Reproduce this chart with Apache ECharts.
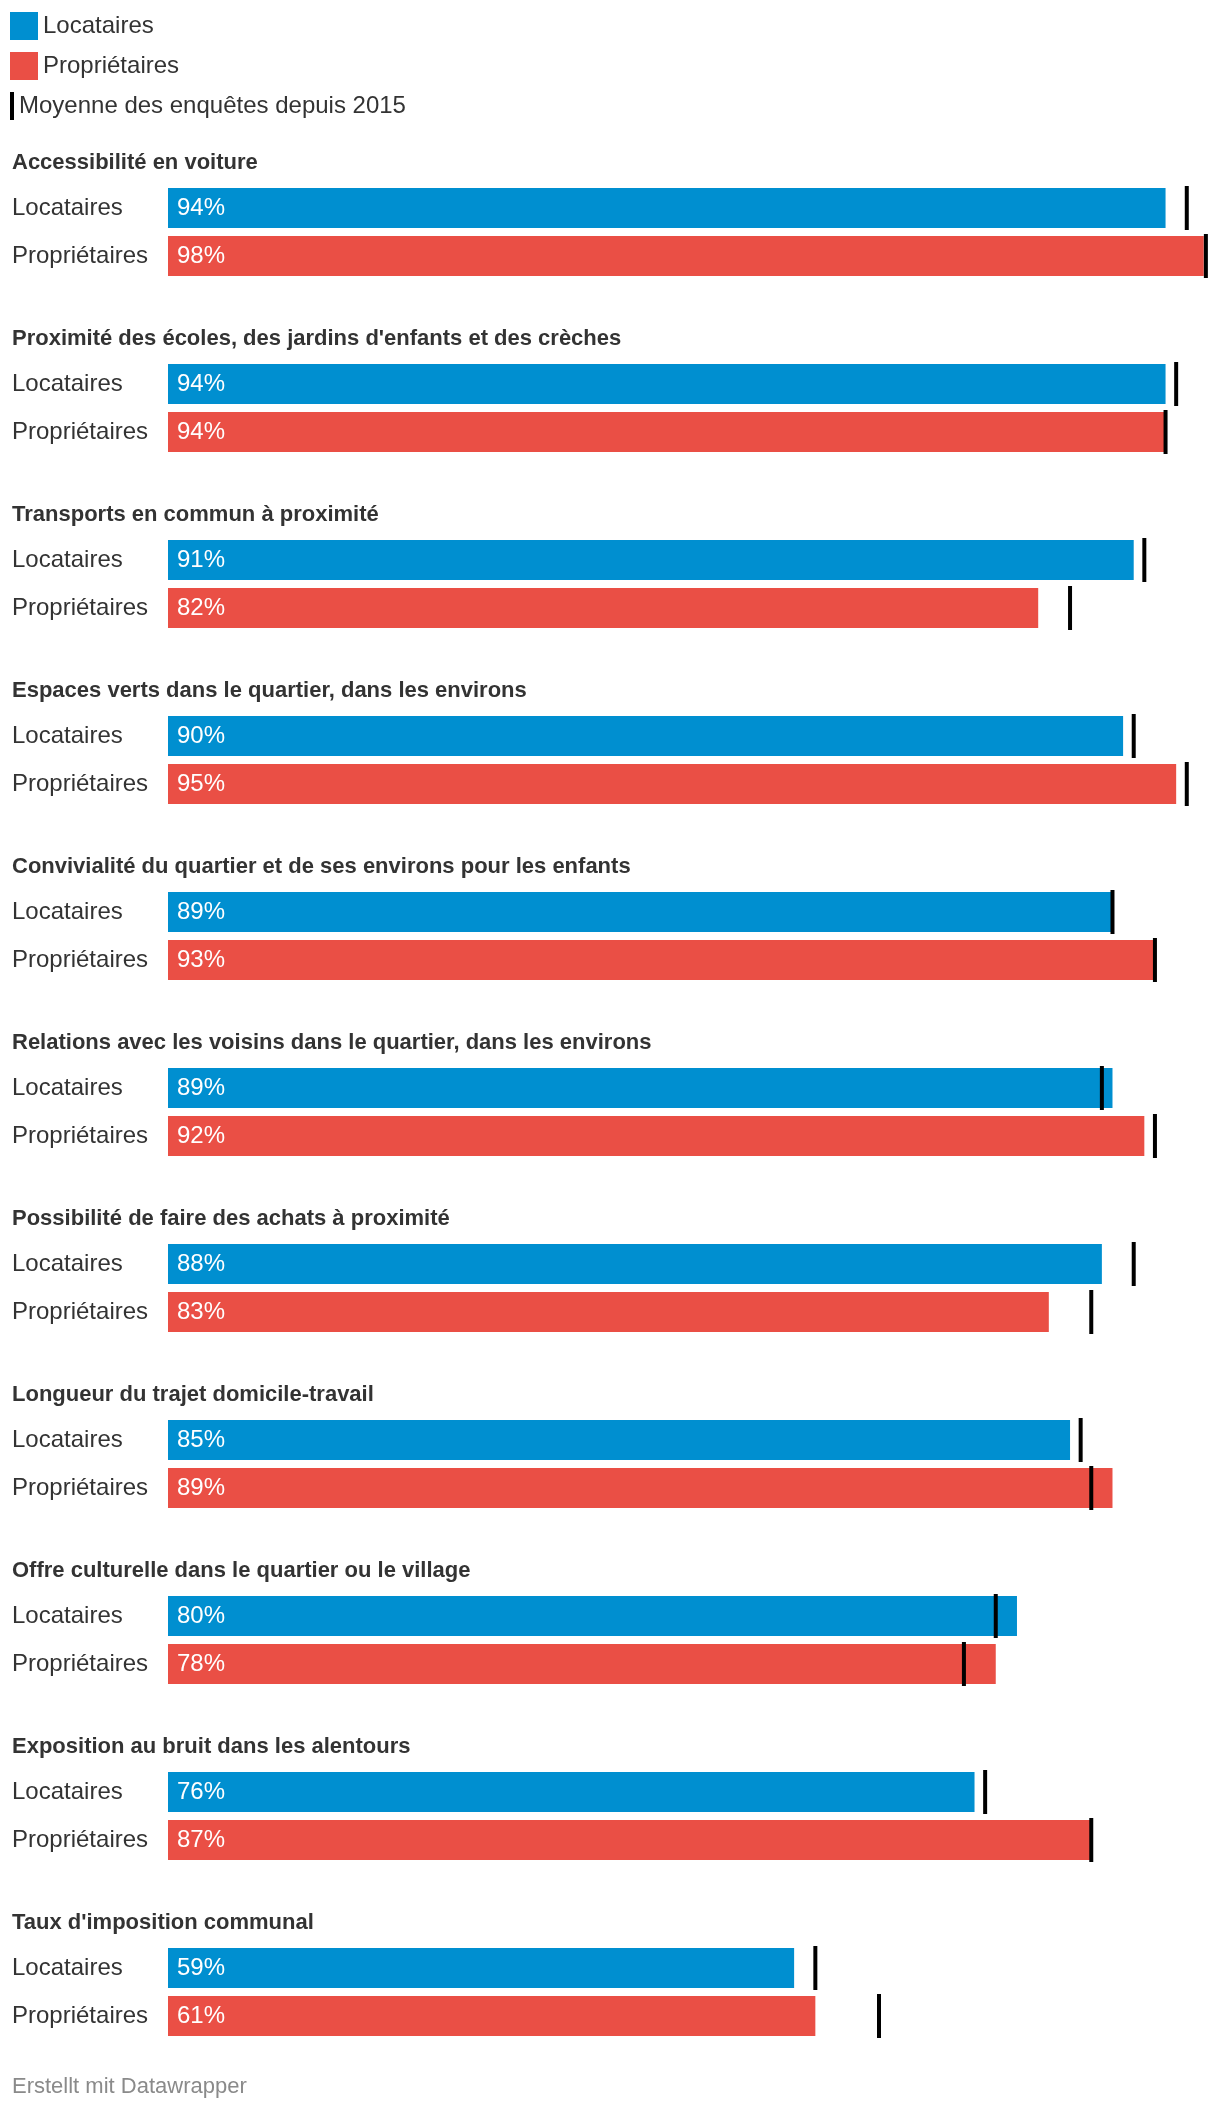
<!DOCTYPE html>
<html>
<head>
<meta charset="utf-8">
<script src="https://cdn.jsdelivr.net/npm/echarts@6/dist/echarts.min.js"></script>
<style>
html,body{margin:0;padding:0;background:#fff;}
#chart{width:1220px;height:2112px;}
</style>
</head>
<body>
<div id="chart"></div>
<script>
const titles = [
  "Accessibilité en voiture",
  "Proximité des écoles, des jardins d'enfants et des crèches",
  "Transports en commun à proximité",
  "Espaces verts dans le quartier, dans les environs",
  "Convivialité du quartier et de ses environs pour les enfants",
  "Relations avec les voisins dans le quartier, dans les environs",
  "Possibilité de faire des achats à proximité",
  "Longueur du trajet domicile-travail",
  "Offre culturelle dans le quartier ou le village",
  "Exposition au bruit dans les alentours",
  "Taux d'imposition communal"
];
const rowLabels = ["Locataires", "Propriétaires"];
const locataires = [94, 94, 91, 90, 89, 89, 88, 85, 80, 76, 59];
const proprietaires = [97.6, 94, 82, 95, 93, 92, 83, 89, 78, 87, 61];
const moyenneLocataires = [96, 95, 92, 91, 89, 88, 91, 86, 78, 77, 61];
const moyenneProprietaires = [97.8, 94, 85, 96, 93, 93, 87, 87, 75, 87, 67];
const avgName = "Moyenne des enquêtes depuis 2015";

const BLUE = '#008fd0';
const RED = '#ea4f45';
const FONT = '"Liberation Sans", Arial, Helvetica, sans-serif';

const chart = echarts.init(document.getElementById('chart'), null, {renderer: 'canvas'});

const grids = [], xAxes = [], yAxes = [], series = [], titleList = [];
titles.forEach((t, i) => {
  const top = 184 + 176 * i;
  grids.push({left: 168, right: 12, top: top, height: 96, containLabel: false});
  xAxes.push({type: 'value', gridIndex: i, min: 0, max: 98, show: false});
  yAxes.push({
    type: 'category', gridIndex: i, data: rowLabels, inverse: true,
    axisLine: {show: false}, axisTick: {show: false}, splitLine: {show: false},
    axisLabel: {align: 'left', margin: 156, fontSize: 24, color: '#333', fontFamily: FONT}
  });
  titleList.push({
    text: t, left: 12, top: top - 32, padding: 0,
    textStyle: {fontSize: 22, fontWeight: 'bold', color: '#333', fontFamily: FONT}
  });
  const lbl = {
    show: true, position: 'insideLeft', distance: 9, color: '#fff', fontSize: 24, fontFamily: FONT,
    formatter: p => Math.round(p.value) + '%'
  };
  series.push({
    name: 'Locataires', type: 'bar', xAxisIndex: i, yAxisIndex: i,
    data: [locataires[i], '-'], barWidth: 40, barGap: '-100%',
    itemStyle: {color: BLUE}, label: lbl, silent: true
  });
  series.push({
    name: 'Propriétaires', type: 'bar', xAxisIndex: i, yAxisIndex: i,
    data: ['-', proprietaires[i]], barWidth: 40, barGap: '-100%',
    itemStyle: {color: RED}, label: lbl, silent: true
  });
  series.push({
    name: avgName, type: 'scatter', xAxisIndex: i, yAxisIndex: i,
    data: [[moyenneLocataires[i], 0], [moyenneProprietaires[i], 1]],
    symbol: 'rect', symbolSize: [4, 44], itemStyle: {color: '#000', opacity: 1}, z: 5, silent: true
  });
});

chart.setOption({
  animation: false,
  backgroundColor: '#fff',
  textStyle: {fontFamily: FONT},
  title: titleList,
  legend: [
    {
      data: ['Locataires', 'Propriétaires'], orient: 'vertical', left: 10, top: 12,
      padding: 0, itemWidth: 28, itemHeight: 28, itemGap: 12, icon: 'rect',
      selectedMode: false,
      textStyle: {fontSize: 24, color: '#333', fontFamily: FONT}
    },
    {
      data: [avgName], orient: 'vertical', left: 10, top: 92,
      padding: 0, itemWidth: 4, itemHeight: 28, icon: 'rect',
      selectedMode: false, itemStyle: {opacity: 1},
      textStyle: {fontSize: 24, color: '#333', fontFamily: FONT}
    }
  ],
  grid: grids,
  xAxis: xAxes,
  yAxis: yAxes,
  series: series,
  graphic: [{
    type: 'text', left: 12, top: 2076,
    style: {text: 'Erstellt mit Datawrapper', fontSize: 22, fill: '#8a8a8a', fontFamily: FONT}
  }]
});
</script>
</body>
</html>
